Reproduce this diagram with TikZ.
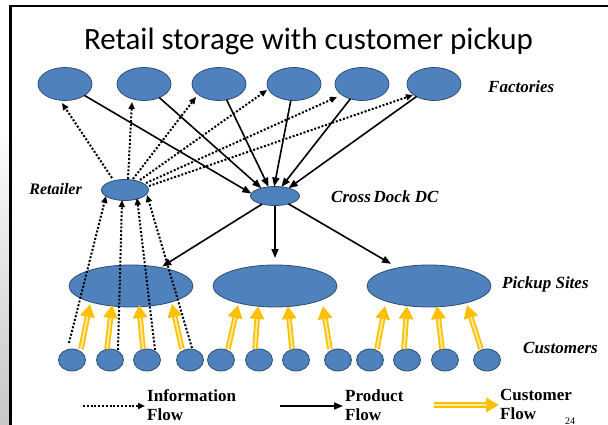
\documentclass[tikz,border=0pt]{standalone}
\usepackage{fontspec}
\setmainfont{Liberation Serif}
\newfontfamily\titlefont{Carlito}
\usetikzlibrary{arrows.meta,shapes.geometric}
\definecolor{nodeblue}{HTML}{4F81BD}
\definecolor{nodeedge}{HTML}{2E4D73}
\definecolor{custy}{HTML}{FFC000}
\definecolor{custpale}{HTML}{FFE89A}
\begin{document}
\begin{tikzpicture}[x=1pt,y=-1pt,
  blob/.style={ellipse, fill=nodeblue, draw=nodeedge, line width=0.8pt, inner sep=0pt, outer sep=0pt},
  factory/.style={blob, minimum width=54pt, minimum height=33pt},
  retail/.style={blob, minimum width=47pt, minimum height=21pt},
  dock/.style={blob, minimum width=49pt, minimum height=19pt},
  pickup/.style={blob, minimum width=124pt, minimum height=42pt},
  customer/.style={blob, minimum width=27pt, minimum height=22pt},
  lab/.style={font=\bfseries\itshape\fontsize{17}{20}\selectfont, inner sep=0pt},
  legtext/.style={font=\bfseries\fontsize{17}{19}\selectfont, inner sep=0pt, align=left, anchor=west},
  info/.style={black, line width=2pt, dash pattern=on 2pt off 1.8pt, -{Triangle[length=7pt,width=6pt]}},
  prod/.style={black, line width=1.6pt, -{Triangle[length=9pt,width=7pt]}},
  cust/.style={draw=custy, line width=5.5pt, -{Triangle[length=13pt,width=14pt]}, postaction={draw=custpale, line width=2pt, -, shorten >=13pt}},
]
\useasboundingbox (0,0) rectangle (608,425);
\shade[top color=white, bottom color=black!22] (0,120) rectangle (9.5,425);
\draw[line width=2.2pt] (10.5,425) -- (10.5,6) -- (608,6);

\node[font=\titlefont\fontsize{31}{36}\selectfont, anchor=base, inner sep=0pt] (title) at (308.5,50) {Retail storage with customer pickup};

% factories
\node[factory] (f1) at (65,84) {};
\node[factory] (f2) at (144,84) {};
\node[factory] (f3) at (219,84) {};
\node[factory] (f4) at (294,84) {};
\node[factory] (f5) at (362,84) {};
\node[factory] (f6) at (434,84) {};
\node[retail] (ret) at (125,190) {};
\node[dock] (cd) at (275,196) {};
\node[pickup] (p1) at (131,286) {};
\node[pickup] (p2) at (275,286) {};
\node[pickup] (p3) at (429,286) {};
\foreach \i/\x in {1/72,2/110,3/147,4/190,5/221,6/259,7/296,8/338,9/370,10/407,11/445,12/487}
  \node[customer] (c\i) at (\x,360) {};

% labels
\node[lab, anchor=west] (flab) at (488,87) {Factories};
\node[lab, anchor=east, font=\bfseries\itshape\fontsize{16}{20}\selectfont] (rlab) at (82,189) {Retailer};
\node[lab, anchor=west] (dlab) at (331,197) {Cross\,Dock DC};
\node[lab, anchor=west] (plab) at (502,284) {Pickup Sites};
\node[lab, anchor=west] (clab) at (523,348) {Customers};

% product flow
\draw[prod] (f1) -- (cd.174);
\draw[prod] (f2) -- (cd.150);
\draw[prod] (f3) -- (cd.125);
\draw[prod] (f4) -- (cd.95);
\draw[prod] (f5) -- (cd.55);
\draw[prod] (f6) -- (cd.30);
\draw[prod, shorten >=2pt] (cd) -- (p1);
\draw[prod, shorten >=7pt] (cd) -- (p2);
\draw[prod, shorten >=8pt] (cd) -- (p3);

% customer flow
\draw[cust] ([shift={(9,0)}]c1.north) -- ([shift={(-41,18)}]p1.center);
\draw[cust] ([shift={(-3,0)}]c2.north) -- ([shift={(-19,19)}]p1.center);
\draw[cust] ([shift={(-4,0)}]c3.north) -- ([shift={(8,19)}]p1.center);
\draw[cust] ([shift={(-8,0)}]c4.north) -- ([shift={(41,18)}]p1.center);
\draw[cust] ([shift={(7,0)}]c5.north) -- ([shift={(-37,19)}]p2.center);
\draw[cust] ([shift={(-4,0)}]c6.north) -- ([shift={(-17,20)}]p2.center);
\draw[cust] ([shift={(-4,0)}]c7.north) -- ([shift={(13,20)}]p2.center);
\draw[cust] ([shift={(-8,0)}]c8.north) -- ([shift={(48,20)}]p2.center);
\draw[cust] ([shift={(7,0)}]c9.north) -- ([shift={(-44,20)}]p3.center);
\draw[cust] ([shift={(-3,0)}]c10.north) -- ([shift={(-22,20)}]p3.center);
\draw[cust] ([shift={(-3,0)}]c11.north) -- ([shift={(8,20)}]p3.center);
\draw[cust] ([shift={(-6,0)}]c12.north) -- ([shift={(38,19)}]p3.center);

% information flow
\draw[info] ([shift={(-13,-12)}]ret.center) -- ([shift={(-3,19)}]f1.center);
\draw[info] ([shift={(3,-11)}]ret.center) -- ([shift={(-12,18)}]f2.center);
\draw[info] ([shift={(8,-11)}]ret.center) -- ([shift={(-23,13)}]f3.center);
\draw[info] ([shift={(15,-10)}]ret.center) -- ([shift={(-27,6)}]f4.center);
\draw[info] ([shift={(21,-7)}]ret.center) -- ([shift={(-25,13)}]f5.center);
\draw[info] ([shift={(24,-4)}]ret.center) -- ([shift={(-21,11)}]f6.center);
\draw[info] ([shift={(-3,-6)}]c1.north) -- ([shift={(-19,6)}]ret.center);
\draw[info] ([shift={(8,1)}]c2.north) -- ([shift={(-3,10)}]ret.center);
\draw[info] ([shift={(8,1)}]c3.north) -- ([shift={(12,8)}]ret.center);
\draw[info] ([shift={(2,-1)}]c4.north) -- ([shift={(22,5)}]ret.center);

% legend
\coordinate (li1) at (83,406);
\node[legtext] (lt1) at (147,405.5) {Information\\Flow};
\draw[info, shorten >=2pt] (li1) -- (li1 -| lt1.west);
\coordinate (lp1) at (280,406);
\node[legtext] (lt2) at (345,405.5) {Product\\Flow};
\draw[prod, shorten >=2pt] (lp1) -- (lp1 -| lt2.west);
\coordinate (lc1) at (434,405);
\node[legtext] (lt3) at (500,404.5) {Customer\\Flow};
\draw[cust, shorten >=1pt] (lc1) -- (lc1 -| lt3.west);
\node[font=\fontsize{10}{12}\selectfont, anchor=base west, inner sep=0pt] (pg) at (565,424) {24};
\end{tikzpicture}
\end{document}
